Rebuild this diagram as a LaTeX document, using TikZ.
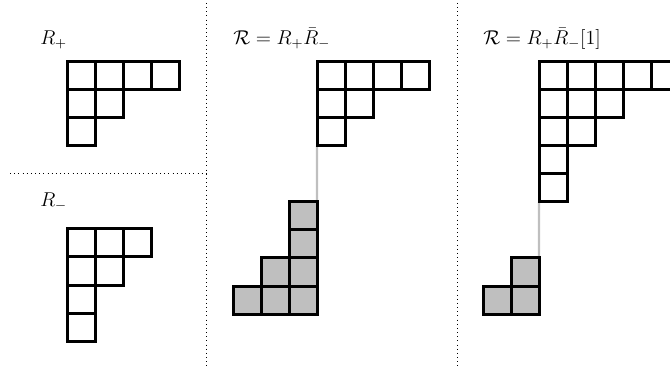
\documentclass[tikz,border=0pt]{standalone}
\usepackage{amsmath,amssymb}
\usepackage{tikz}
\usetikzlibrary{positioning,backgrounds}

\begin{document}
\begin{tikzpicture}[x=0.6pt,y=-0.6pt,
    cell/.style={rectangle, draw=black, line width=1.8pt, minimum size=16.8pt,
                 inner sep=0pt, outer sep=0pt},
    shade/.style={cell, fill=gray!50},
    lbl/.style={anchor=base west, inner sep=0pt, font=\large},
    sep/.style={dotted, line width=0.5pt},
    link/.style={gray!50, line width=1.3pt}
]
    \useasboundingbox (0,0) rectangle (670,370);

    % separators
    \draw[sep] (206,3) -- (206,367);
    \draw[sep] (457,3) -- (457,367);
    \draw[sep] (10,173) -- (206,173);

    % labels
    \node[lbl] (lplus)  at (40,45)  {$R_+$};
    \node[lbl] (lminus) at (40,207) {$R_-$};
    \node[lbl] (lmid)   at (233,45) {$\mathcal{R} = R_+\bar{R}_-$};
    \node[lbl] (lright) at (483,45) {$\mathcal{R} = R_+\bar{R}_-[1]$};

    % R_+ and R_-
    \foreach \len [count=\r] in {4,2,1}
        \foreach \c in {1,...,\len}
            \node[cell] (ap-\r-\c) at ({67+28*(\c-.5)},{62+28*(\r-.5)}) {};
    \foreach \len [count=\r] in {3,2,1,1}
        \foreach \c in {1,...,\len}
            \node[cell] (am-\r-\c) at ({67+28*(\c-.5)},{229+28*(\r-.5)}) {};

    % R_+ Rbar_-
    \foreach \len [count=\r] in {4,2,1}
        \foreach \c in {1,...,\len}
            \node[cell] (mp-\r-\c) at ({317+28*(\c-.5)},{62+28*(\r-.5)}) {};
    \foreach \len [count=\r] in {1,1,2,3}
        \foreach \c in {1,...,\len}
            \node[shade] (mm-\r-\c) at ({317-28*(\c-.5)},{202+28*(\r-.5)}) {};

    % R_+ Rbar_-[1]
    \foreach \len [count=\r] in {5,3,2,1,1}
        \foreach \c in {1,...,\len}
            \node[cell] (rp-\r-\c) at ({539+28*(\c-.5)},{62+28*(\r-.5)}) {};
    \foreach \len [count=\r] in {1,2}
        \foreach \c in {1,...,\len}
            \node[shade] (rm-\r-\c) at ({539-28*(\c-.5)},{258+28*(\r-.5)}) {};

    \begin{pgfonlayer}{background}
        \draw[link] (mp-3-1.south west) -- (mm-1-1.north east);
        \draw[link] (rp-5-1.south west) -- (rm-1-1.north east);
    \end{pgfonlayer}
\end{tikzpicture}
\end{document}
